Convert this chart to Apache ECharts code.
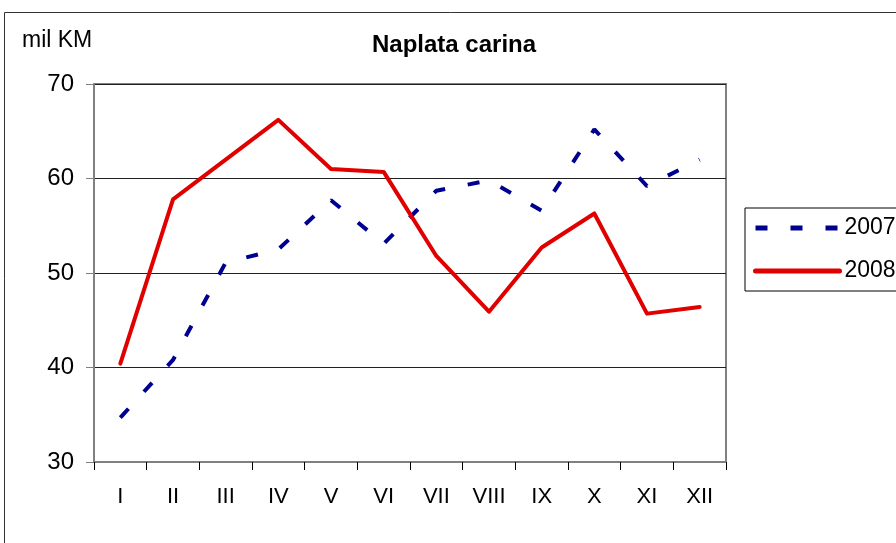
<!DOCTYPE html>
<html>
<head>
<meta charset="utf-8">
<script src="https://cdn.jsdelivr.net/npm/echarts@6/dist/echarts.min.js"></script>
<style>
  html, body { margin: 0; padding: 0; background: #fff; }
  #chart { width: 896px; height: 543px; }
</style>
</head>
<body>
<div id="chart"></div>
<script>
// months (roman numerals)
const months = ['I', 'II', 'III', 'IV', 'V', 'VI', 'VII', 'VIII', 'IX', 'X', 'XI', 'XII']
// mil KM
const values2007 = [34.7, 40.8, 51.1, 52.5, 57.7, 53.1, 58.7, 59.8, 56.6, 65.2, 59.2, 62.0]
const values2008 = [40.4, 57.8, 62.0, 66.2, 61.0, 60.7, 51.8, 45.9, 52.7, 56.3, 45.7, 46.4]
const seriesNames = ['2007', '2008']

const font = '"Liberation Sans", Arial, sans-serif'

const el = document.getElementById('chart')
const chart = echarts.init(el)

const option = {
  animation: false,
  backgroundColor: '#fff',
  textStyle: { fontFamily: font },
  title: [
    {
      text: 'Naplata carina',
      left: 372,
      top: 33,
      padding: 0,
      textStyle: { fontFamily: font, fontSize: 24, fontWeight: 'bold', color: '#000' }
    },
    {
      text: 'mil KM',
      left: 22,
      top: 29,
      padding: 0,
      textStyle: { fontFamily: font, fontSize: 23, fontWeight: 'normal', color: '#000' }
    }
  ],
  graphic: [
    {
      type: 'rect',
      shape: { x: 4.5, y: 12.5, width: 1000, height: 1000 },
      style: { fill: 'none', stroke: '#333', lineWidth: 1 },
      silent: true
    }
  ],
  legend: {
    orient: 'vertical',
    left: 745,
    top: 208,
    padding: [8, 8, 8, 8],
    itemGap: 19,
    itemWidth: 84,
    itemHeight: 14,
    borderColor: '#000',
    borderWidth: 1,
    data: seriesNames,
    itemStyle: { opacity: 0 },
    lineStyle: { width: 5 },
    textStyle: { fontFamily: font, fontSize: 23, color: '#000', lineHeight: 24 }
  },
  grid: {
    left: 94,
    top: 84,
    width: 632,
    height: 378,
    show: true,
    borderColor: '#808080',
    borderWidth: 2,
    containLabel: false
  },
  xAxis: {
    type: 'category',
    data: months,
    boundaryGap: true,
    axisLine: { lineStyle: { color: '#808080', width: 2 } },
    axisTick: { show: true, length: 8, lineStyle: { color: '#000', width: 1 } },
    axisLabel: { margin: 24, fontFamily: font, fontSize: 22, color: '#000' },
    splitLine: { show: false }
  },
  yAxis: {
    type: 'value',
    min: 30,
    max: 70,
    interval: 10,
    axisLine: { show: true, lineStyle: { color: '#808080', width: 2 } },
    axisTick: { show: true, length: 8, lineStyle: { color: '#808080', width: 1 } },
    axisLabel: { margin: 20, fontFamily: font, fontSize: 24, color: '#000' },
    splitLine: { show: true, lineStyle: { color: '#202020', width: 1 } }
  },
  series: [
    {
      name: seriesNames[0],
      type: 'line',
      data: values2007,
      symbol: 'none',
      color: '#000090',
      lineStyle: { color: '#000090', width: 4, type: [12, 23], cap: 'butt' }
    },
    {
      name: seriesNames[1],
      type: 'line',
      data: values2008,
      symbol: 'none',
      color: '#e00000',
      lineStyle: { color: '#e00000', width: 4, cap: 'round', join: 'round' }
    }
  ]
}

chart.setOption(option)
</script>
</body>
</html>
